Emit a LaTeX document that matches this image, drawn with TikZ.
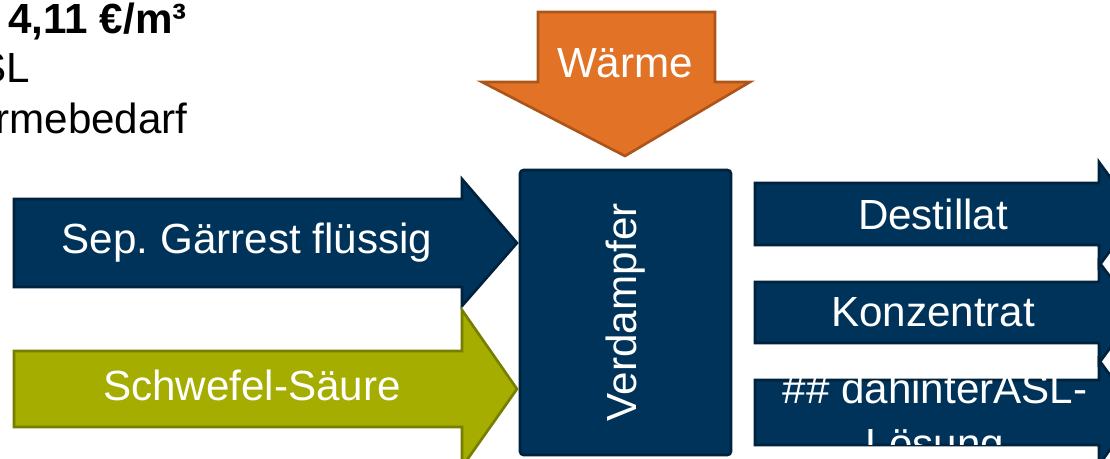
\documentclass[tikz,border=0pt]{standalone}
\usepackage{fontspec}
\setmainfont{Liberation Sans}
\usetikzlibrary{positioning}

\definecolor{navy}{RGB}{0,51,89}
\definecolor{navyrand}{RGB}{0,34,60}
\definecolor{waermefarbe}{RGB}{225,114,38}
\definecolor{waermerand}{RGB}{172,84,26}
\definecolor{saeurefarbe}{RGB}{164,173,0}
\definecolor{saeurerand}{RGB}{120,126,0}

\begin{document}
\begin{tikzpicture}[x=0.02cm, y=-0.02cm,
    pfeil/.style={line width=1.5pt, line join=miter},
    blaupfeil/.style={pfeil, fill=navy, draw=navyrand},
    schrift/.style={font=\fontsize{24}{31}\selectfont},
    weiss/.style={schrift, text=white, inner sep=0pt}]

    % Rahmen (Bild ist links und unten abgeschnitten)
    \clip (0,0) rectangle (1110,458);

    % Text oben links
    \node[schrift, anchor=base east, inner sep=0pt] (kosten) at (187,33) {\textbf{4,11 €/m³}};
    \node[schrift, anchor=base east, inner sep=0pt] (asl) at (30,82) {SL};
    \node[schrift, anchor=base east, inner sep=0pt] (bedarf) at (188,133) {rmebedarf};

    % Wärme (Pfeil nach unten)
    \draw[pfeil, fill=waermefarbe, draw=waermerand]
        (538,12) -- (715,12) -- (715,82) -- (750,82) -- (625,156)
        -- (482,82) -- (538,82) -- cycle;
    \node[weiss] (waerme) at (625,63) {Wärme};

    % Verdampfer
    \draw[blaupfeil, rounded corners=2pt] (520,170) rectangle (731,455);
    \node[weiss, rotate=90] (verdampfer) at (626,312) {Verdampfer};

    % Zulauf links
    \draw[blaupfeil]
        (14,199) -- (462,199) -- (462,179) -- (517,243) -- (462,306)
        -- (462,287) -- (14,287) -- cycle;
    \node[weiss] (gaerrest) at (247,243) {Sep.\ Gärrest flüssig};

    \draw[pfeil, fill=saeurefarbe, draw=saeurerand]
        (14,351) -- (462,351) -- (462,310) -- (517,389) -- (462,467)
        -- (462,427) -- (14,427) -- cycle;
    \node[weiss] (saeure) at (252,385) {Schwefel-Säure};

    % Abläufe rechts
    \draw[blaupfeil]
        (755,183) -- (1099,183) -- (1099,162) -- (1137,214) -- (1099,266)
        -- (1099,245) -- (755,245) -- cycle;
    \node[weiss] (destillat) at (933,214) {Destillat};

    \draw[blaupfeil]
        (755,282) -- (1099,282) -- (1099,262) -- (1137,312) -- (1099,363)
        -- (1099,343) -- (755,343) -- cycle;
    \node[weiss] (konzentrat) at (933,312) {Konzentrat};

    \draw[blaupfeil]
        (755,380) -- (1099,380) -- (1099,360) -- (1137,412) -- (1099,465)
        -- (1099,445) -- (755,445) -- cycle;
    \begin{scope}
        \clip (755,378) rectangle (1110,444);
        \node[weiss, align=center, anchor=base] (loesung) at (935,458)
            {\#\# dahinterASL-\\Lösung};
    \end{scope}

\end{tikzpicture}
\end{document}
